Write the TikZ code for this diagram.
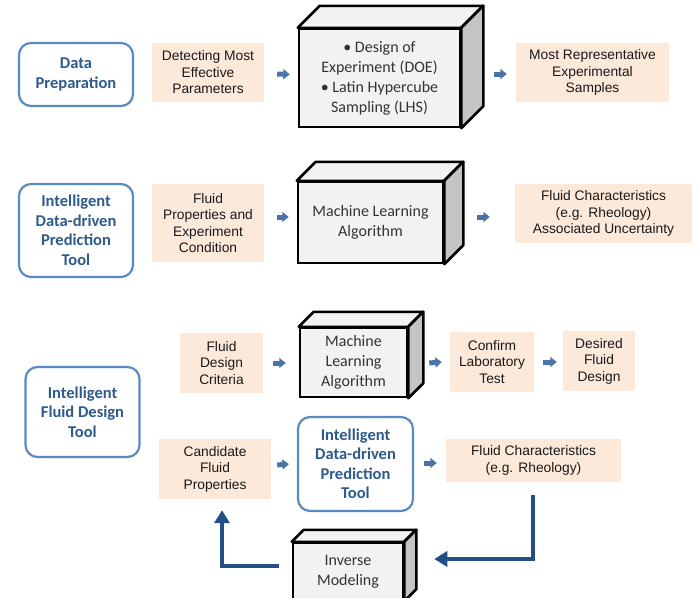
\documentclass[tikz,border=0pt]{standalone}
\usepackage{fontspec}
\setmainfont{Liberation Sans}
\newfontfamily\calibri{Carlito}
\usetikzlibrary{calc,arrows.meta}
\definecolor{peach}{HTML}{FDE9D9}
\definecolor{toolblue}{HTML}{5B8AC2}
\definecolor{tooltext}{HTML}{2E5A8C}
\definecolor{arrowblue}{HTML}{4A74A8}
\definecolor{loopblue}{HTML}{234E86}
\definecolor{cubefront}{HTML}{F2F2F2}
\definecolor{cubeside}{HTML}{C4C4C4}
\definecolor{cubetext}{HTML}{333333}
\tikzset{
  toolbox/.style={draw=toolblue, line width=2.2pt, rounded corners=12pt, fill=white,
    align=center, inner sep=0pt, font=\calibri\fontsize{16.5}{19.5}\selectfont\bfseries, text=tooltext},
  infobox/.style={fill=peach, align=center, inner sep=0pt,
    font=\fontsize{13.8}{16.5}\selectfont, text=black!90},
  cubebox/.style={draw=black, line width=2.5pt, fill=cubefront, align=center, inner sep=0pt,
    font=\calibri\fontsize{16}{20}\selectfont, text=cubetext},
  cubeface/.style={draw=black, line width=2.5pt, line join=round},
  blk/.style={draw=arrowblue, line width=5pt, -{Triangle[length=6.5pt,width=10pt]}},
  loop/.style={draw=loopblue, line width=4pt, -{Triangle[length=13pt,width=15pt]}}
}
% top and side faces of a box drawn behind its front face
\newcommand\cubefaces[2]{%
  \filldraw[cubeface, fill=cubefront] (#1.north west) -- ++(#2,-#2) -- ($(#1.north east)+(#2,-#2)$) -- (#1.north east) -- cycle;
  \filldraw[cubeface, fill=cubeside] (#1.north east) -- ($(#1.north east)+(#2,-#2)$) -- ($(#1.south east)+(#2,-#2)$) -- (#1.south east) -- cycle;
}
\begin{document}
\begin{tikzpicture}[x=1pt,y=-1pt]
\useasboundingbox (0,0) rectangle (698,597);

% ---- row 1: data preparation
\node[toolbox, minimum width=114pt, minimum height=63pt] (t1) at (76,74.5) {Data\\Preparation};
\node[infobox, minimum width=112pt, minimum height=59pt] (p1) at (208,72.5) {Detecting Most\\Effective\\Parameters};
\node[cubebox, minimum width=161pt, minimum height=98pt] (c1) at (379.5,78) {\textbullet\ Design of\\Experiment (DOE)\\\textbullet\ Latin Hypercube\\Sampling (LHS)};
\cubefaces{c1}{22}
\node[infobox, minimum width=153pt, minimum height=59pt] (p2) at (592.5,72.5) {Most Representative\\Experimental\\Samples};
\draw[blk] ($(p1.east)+(13,1.5)$) -- ($(c1.west)+(-8,-3.5)$);
\draw[blk] ($(c1.east)+(33,-4)$) -- ($(p2.west)+(-9,1.5)$);

% ---- row 2: prediction tool
\node[toolbox, minimum width=114pt, minimum height=93pt] (t2) at (76,230.5) {Intelligent\\Data-driven\\Prediction\\Tool};
\node[infobox, minimum width=112pt, minimum height=78pt] (p3) at (208,223) {Fluid\\Properties and\\Experiment\\Condition};
\node[cubebox, minimum width=145pt, minimum height=81pt] (c2) at (370.5,222.5) {Machine Learning\\Algorithm};
\cubefaces{c2}{19}
\node[infobox, minimum width=177pt, minimum height=59pt] (p4) at (603.5,213.5) {Fluid Characteristics\\(e.g. Rheology)\\Associated Uncertainty};
\draw[blk] ($(p3.east)+(13,-6)$) -- ($(c2.west)+(-8,-5.5)$);
\draw[blk] ($(c2.east)+(33,-5.5)$) -- ($(p4.west)+(-25,3.5)$);

% ---- row 3: fluid design tool
\node[toolbox, minimum width=114pt, minimum height=90pt] (t3) at (82.5,412) {Intelligent\\Fluid Design\\Tool};
\node[infobox, minimum width=83pt, minimum height=60pt] (p5) at (221.5,363) {Fluid\\Design\\Criteria};
\node[cubebox, minimum width=107pt, minimum height=69pt] (c3) at (353.5,362.5) {Machine\\Learning\\Algorithm};
\cubefaces{c3}{15}
\node[infobox, minimum width=84pt, minimum height=60pt] (p6) at (492,362) {Confirm\\Laboratory\\Test};
\node[infobox, minimum width=72pt, minimum height=60pt] (p7) at (599,361) {Desired\\Fluid\\Design};
\draw[blk] ($(p5.east)+(10,0)$) -- ($(c3.west)+(-13,0.5)$);
\draw[blk] ($(c3.east)+(21,0.5)$) -- ($(p6.west)+(-8,0)$);
\draw[blk] ($(p6.east)+(9,0)$) -- ($(p7.west)+(-6,1)$);

% ---- row 4: inverse loop
\node[infobox, minimum width=112pt, minimum height=60pt] (p8) at (215,469) {Candidate\\Fluid\\Properties};
\node[toolbox, minimum width=115pt, minimum height=94pt] (t4) at (355.5,464) {Intelligent\\Data-driven\\Prediction\\Tool};
\node[infobox, minimum width=175pt, minimum height=43pt] (p9) at (533.5,460.5) {Fluid Characteristics\\(e.g. Rheology)};
\node[cubebox, minimum width=110pt, minimum height=57pt] (c4) at (348,571.5) {Inverse\\Modeling};
\cubefaces{c4}{12}
\draw[blk] ($(p8.east)+(6,-4)$) -- ($(t4.west)+(-8,0)$);
\draw[blk] ($(t4.east)+(10,-1)$) -- ($(p9.west)+(-9,2.5)$);

% feedback path
\coordinate (fbstart) at ($(p9.south)+(-1,13)$);
\coordinate (fbend) at ($(c4.east)+(30,-12.5)$);
\draw[loop] (fbstart) |- (fbend);
\coordinate (ivstart) at ($(c4.west)+(-13,-6)$);
\coordinate (ivend) at ($(p8.south)+(7,11)$);
\draw[loop] (ivstart) -| (ivend);
\end{tikzpicture}
\end{document}
